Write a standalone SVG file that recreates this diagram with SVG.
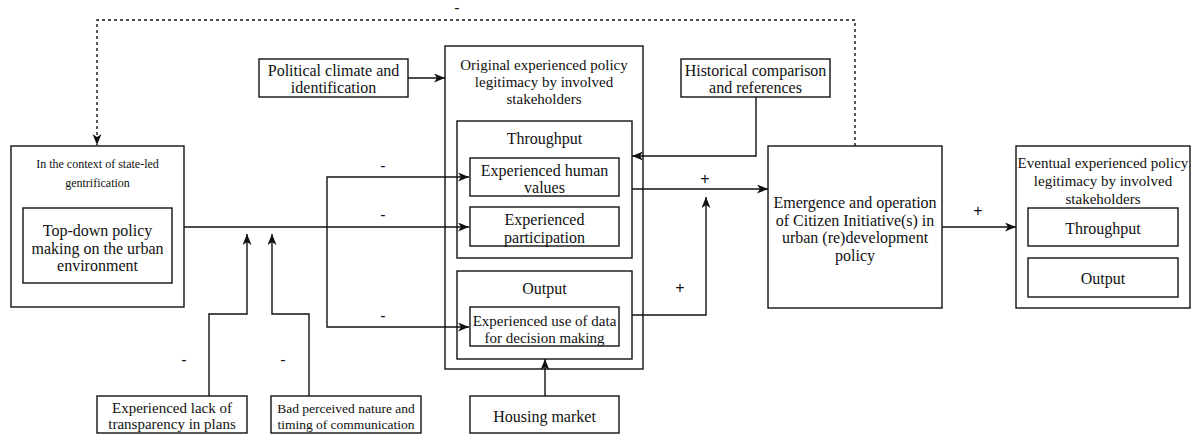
<svg xmlns="http://www.w3.org/2000/svg" width="1191" height="435" viewBox="0 0 1191 435">
<style>
.box{fill:#fff;stroke:#111;stroke-width:1.4}
.t{font-family:"Liberation Serif",serif;font-size:16px;fill:#111;text-anchor:middle}
.s15{font-size:15px}
.s13{font-size:13.5px}
.s12{font-size:12px}
.lbl{font-family:"Liberation Sans",sans-serif;font-size:16px;fill:#111;text-anchor:middle}
.c{fill:none;stroke:#111;stroke-width:1.4}
.d{stroke-dasharray:3 3}
</style>
<defs>
<marker id="ah" markerUnits="userSpaceOnUse" markerWidth="12" markerHeight="10" refX="11" refY="4.5" orient="auto">
<path d="M0,0 L11,4.5 L0,9 L3,4.5 z" fill="#111"/>
</marker>
</defs>
<g id="context">
<rect class="box" x="11" y="146" width="173" height="161"/>
<text class="t s12" x="97.5" y="168">In the context of state-led</text>
<text class="t s12" x="97.5" y="187">gentrification</text>
</g>
<g id="topdown">
<rect class="box" x="23" y="208" width="149" height="75"/>
<text class="t" x="97.5" y="235.5">Top-down policy</text>
<text class="t" x="97.5" y="253.5">making on the urban</text>
<text class="t" x="97.5" y="270.5">environment</text>
</g>
<g id="political">
<rect class="box" x="259" y="59" width="149" height="38"/>
<text class="t" x="333.5" y="75.5">Political climate and</text>
<text class="t" x="333.5" y="92.5">identification</text>
</g>
<g id="original">
<rect class="box" x="445" y="46" width="198" height="323"/>
<text class="t s15" x="544" y="70">Original experienced policy</text>
<text class="t s15" x="544" y="87">legitimacy by involved</text>
<text class="t s15" x="544" y="104">stakeholders</text>
</g>
<g id="throughput">
<rect class="box" x="457" y="121" width="175" height="137"/>
<text class="t" x="544.5" y="143.5">Throughput</text>
</g>
<g id="humanvalues">
<rect class="box" x="470" y="158" width="149" height="38"/>
<text class="t" x="544.5" y="175.5">Experienced human</text>
<text class="t" x="544.5" y="192.5">values</text>
</g>
<g id="participation">
<rect class="box" x="470" y="207" width="149" height="39"/>
<text class="t" x="544.5" y="224.5">Experienced</text>
<text class="t" x="544.5" y="242.5">participation</text>
</g>
<g id="output">
<rect class="box" x="457" y="271" width="175" height="88"/>
<text class="t" x="544.5" y="293.5">Output</text>
</g>
<g id="data">
<rect class="box" x="470" y="307" width="149" height="39"/>
<text class="t s15" x="544.5" y="326">Experienced use of data</text>
<text class="t s15" x="544.5" y="343">for decision making</text>
</g>
<g id="housing">
<rect class="box" x="470" y="396" width="149" height="37"/>
<text class="t" x="544.5" y="421.5">Housing market</text>
</g>
<g id="historical">
<rect class="box" x="681" y="59" width="149" height="38"/>
<text class="t" x="755.5" y="75.5">Historical comparison</text>
<text class="t" x="755.5" y="92.5">and references</text>
</g>
<g id="emergence">
<rect class="box" x="768" y="146" width="174" height="162"/>
<text class="t" x="855" y="207.5">Emergence and operation</text>
<text class="t" x="855" y="225.5">of Citizen Initiative(s) in</text>
<text class="t" x="855" y="242.5">urban (re)development</text>
<text class="t" x="855" y="260.5">policy</text>
</g>
<g id="eventual">
<rect class="box" x="1016" y="146" width="174" height="162"/>
<text class="t s15" x="1103" y="168">Eventual experienced policy</text>
<text class="t s15" x="1103" y="186">legitimacy by involved</text>
<text class="t s15" x="1103" y="204">stakeholders</text>
</g>
<g id="throughput2">
<rect class="box" x="1028" y="208" width="150" height="38"/>
<text class="t" x="1103" y="233.5">Throughput</text>
</g>
<g id="output2">
<rect class="box" x="1028" y="258" width="150" height="39"/>
<text class="t" x="1103" y="283.5">Output</text>
</g>
<g id="lack">
<rect class="box" x="97" y="396" width="150" height="37"/>
<text class="t s15" x="172" y="413">Experienced lack of</text>
<text class="t s15" x="172" y="429">transparency in plans</text>
</g>
<g id="bad">
<rect class="box" x="271" y="396" width="150" height="37"/>
<text class="t s13" x="346" y="413">Bad perceived nature and</text>
<text class="t s13" x="346" y="429">timing of communication</text>
</g>
<g id="connectors">
<path class="c d" d="M855,146 V20 H97 V145" marker-end="url(#ah)"/>
<path class="c" d="M184,227 H469" marker-end="url(#ah)"/>
<path class="c" d="M327,227 V177 H469" marker-end="url(#ah)"/>
<path class="c" d="M327,227 V327 H469" marker-end="url(#ah)"/>
<path class="c" d="M209,396 V314 H247 V234" marker-end="url(#ah)"/>
<path class="c" d="M309,396 V314 H272 V234" marker-end="url(#ah)"/>
<path class="c" d="M408,78 H445" marker-end="url(#ah)"/>
<path class="c" d="M756,97 V156 H632" marker-end="url(#ah)"/>
<path class="c" d="M632,189 H768" marker-end="url(#ah)"/>
<path class="c" d="M632,315 H706 V197" marker-end="url(#ah)"/>
<path class="c" d="M545,396 V359" marker-end="url(#ah)"/>
<path class="c" d="M942,227 H1016" marker-end="url(#ah)"/>
<text class="lbl" x="457" y="13">-</text>
<text class="lbl" x="383" y="171">-</text>
<text class="lbl" x="383" y="220">-</text>
<text class="lbl" x="383" y="321">-</text>
<text class="lbl" x="184" y="365">-</text>
<text class="lbl" x="283" y="365">-</text>
<text class="lbl" x="705" y="184">+</text>
<text class="lbl" x="680" y="293">+</text>
<text class="lbl" x="978" y="216">+</text>
</g>
</svg>
